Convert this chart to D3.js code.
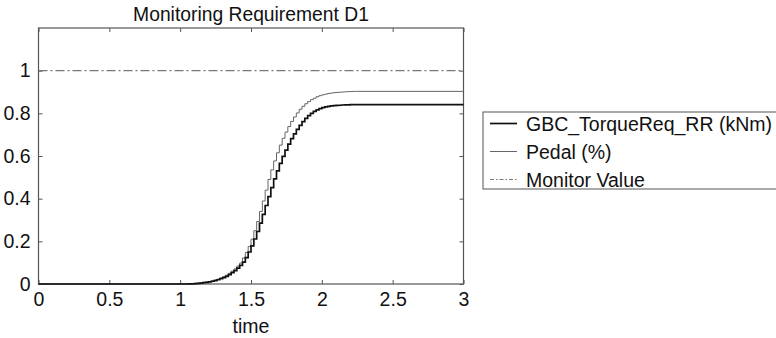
<!DOCTYPE html>
<html>
<head>
<meta charset="utf-8">
<script src="https://cdn.jsdelivr.net/npm/d3@7"></script>
<style>
  body { margin: 0; background: #fff; }
  svg { display: block; font-family: "Liberation Sans", Arial, sans-serif; }
</style>
</head>
<body>
<div id="container"></div>
<script>
var width = 776, height = 338;
var margin = {top: 28, right: 312.5, bottom: 54, left: 38.5};

// sample times (s)
var times = [0,
  1.00, 1.02, 1.04, 1.06, 1.08, 1.10, 1.12, 1.14, 1.16, 1.18,
  1.20, 1.22, 1.24, 1.26, 1.28, 1.30, 1.32, 1.34, 1.36, 1.38,
  1.40, 1.42, 1.44, 1.46, 1.48, 1.50, 1.52, 1.54, 1.56, 1.58,
  1.60, 1.62, 1.64, 1.66, 1.68, 1.70, 1.72, 1.74, 1.76, 1.78,
  1.80, 1.82, 1.84, 1.86, 1.88, 1.90, 1.92, 1.94, 1.96, 1.98,
  2.00, 2.02, 2.04, 2.06, 2.08, 2.10, 2.12, 2.14, 2.16, 2.18,
  2.20, 2.22, 2.24,
  3];

var torque = [0,
  0.000, 0.000, 0.000, 0.001, 0.001, 0.002, 0.003, 0.004, 0.006, 0.008,
  0.010, 0.013, 0.016, 0.020, 0.025, 0.030, 0.036, 0.044, 0.053, 0.063,
  0.074, 0.087, 0.103, 0.124, 0.150, 0.179, 0.211, 0.246, 0.285, 0.326,
  0.368, 0.410, 0.452, 0.493, 0.530, 0.565, 0.598, 0.628, 0.656, 0.681,
  0.704, 0.725, 0.744, 0.761, 0.776, 0.789, 0.800, 0.809, 0.816, 0.822,
  0.827, 0.830, 0.833, 0.835, 0.836, 0.837, 0.838, 0.839, 0.840, 0.840,
  0.841, 0.841, 0.841,
  0.841];

var pedal = [0,
  0.000, 0.000, 0.001, 0.001, 0.002, 0.003, 0.004, 0.006, 0.008, 0.010,
  0.012, 0.015, 0.019, 0.023, 0.028, 0.034, 0.041, 0.050, 0.060, 0.071,
  0.084, 0.098, 0.122, 0.148, 0.176, 0.210, 0.250, 0.293, 0.340, 0.389,
  0.440, 0.490, 0.535, 0.577, 0.615, 0.651, 0.683, 0.712, 0.738, 0.762,
  0.783, 0.802, 0.819, 0.833, 0.845, 0.855, 0.864, 0.871, 0.878, 0.883,
  0.887, 0.890, 0.893, 0.895, 0.897, 0.898, 0.899, 0.900, 0.901, 0.902,
  0.902, 0.903, 0.903,
  0.903];

var monitorTimes = [0, 3];
var monitor = [1, 1];

var xTicks = [0, 0.5, 1, 1.5, 2, 2.5, 3];
var yTicks = [0, 0.2, 0.4, 0.6, 0.8, 1];
var legendLabels = ["GBC_TorqueReq_RR (kNm)", "Pedal (%)", "Monitor Value"];

var plotW = width - margin.left - margin.right;
var plotH = height - margin.top - margin.bottom;

var x = d3.scaleLinear().domain([0, 3]).range([margin.left, margin.left + plotW]);
var y = d3.scaleLinear().domain([0, 1.2]).range([margin.top + plotH, margin.top]);

var svg = d3.select("#container").append("svg")
    .attr("width", width)
    .attr("height", height);

// title
svg.append("text")
    .attr("x", margin.left + plotW / 2)
    .attr("y", 21)
    .attr("text-anchor", "middle")
    .style("font-size", "19.3px")
    .style("fill", "#111")
    .text("Monitoring Requirement D1");

// axes with inward ticks on all sides
var axisColor = "#555";
function styleAxis(g) {
  g.select(".domain").remove();
  g.selectAll(".tick line").attr("stroke", axisColor);
  g.selectAll(".tick text").style("font-size", "19.5px").attr("fill", "#111");
}

svg.append("g")
    .attr("transform", "translate(0," + (margin.top + plotH) + ")")
    .call(d3.axisBottom(x).tickValues(xTicks).tickSizeInner(-4).tickSizeOuter(0).tickPadding(8).tickFormat(d3.format("")))
    .call(styleAxis);

svg.append("g")
    .attr("transform", "translate(0," + margin.top + ")")
    .call(d3.axisTop(x).tickValues(xTicks).tickSizeInner(-4).tickSizeOuter(0).tickFormat(""))
    .call(styleAxis);

svg.append("g")
    .attr("transform", "translate(" + margin.left + ",0)")
    .call(d3.axisLeft(y).tickValues(yTicks).tickSizeInner(-4).tickSizeOuter(0).tickPadding(8).tickFormat(d3.format("")))
    .call(styleAxis);

svg.append("g")
    .attr("transform", "translate(" + (margin.left + plotW) + ",0)")
    .call(d3.axisRight(y).tickValues(yTicks).tickSizeInner(-4).tickSizeOuter(0).tickFormat(""))
    .call(styleAxis);

svg.append("rect")
    .attr("x", margin.left)
    .attr("y", margin.top)
    .attr("width", plotW)
    .attr("height", plotH)
    .attr("fill", "none")
    .attr("stroke", axisColor)
    .attr("stroke-width", 1.2);

// x label
svg.append("text")
    .attr("x", margin.left + plotW / 2)
    .attr("y", 333)
    .attr("text-anchor", "middle")
    .style("font-size", "19.5px")
    .style("fill", "#111")
    .text("time");

var stepLine = d3.line()
    .x(function(d) { return x(d[0]); })
    .y(function(d) { return y(d[1]); })
    .curve(d3.curveStepAfter);

var plain = d3.line()
    .x(function(d) { return x(d[0]); })
    .y(function(d) { return y(d[1]); });

svg.append("path")
    .datum(d3.zip(monitorTimes, monitor))
    .attr("d", plain)
    .attr("fill", "none")
    .attr("stroke", "#777")
    .attr("stroke-width", 1.2)
    .attr("stroke-dasharray", "9,3,2,3");

svg.append("path")
    .datum(d3.zip(times, pedal))
    .attr("d", stepLine)
    .attr("fill", "none")
    .attr("stroke", "#666")
    .attr("stroke-width", 1);

svg.append("path")
    .datum(d3.zip(times, torque))
    .attr("d", stepLine)
    .attr("fill", "none")
    .attr("stroke", "#111")
    .attr("stroke-width", 1.7);

// legend
var legend = svg.append("g").attr("transform", "translate(483,112)");
legend.append("rect")
    .attr("x", 0).attr("y", 0)
    .attr("width", 300).attr("height", 77)
    .attr("fill", "#fff")
    .attr("stroke", axisColor)
    .attr("stroke-width", 1);

var legendStyles = [
  {stroke: "#111", width: 1.7, dash: null},
  {stroke: "#666", width: 1, dash: null},
  {stroke: "#777", width: 1.2, dash: "4,2,1.5,2"}
];

legendLabels.forEach(function(label, i) {
  var cy = 11.5 + i * 28;
  var st = legendStyles[i];
  legend.append("line")
      .attr("x1", 7).attr("x2", 34)
      .attr("y1", cy).attr("y2", cy)
      .attr("stroke", st.stroke)
      .attr("stroke-width", st.width)
      .attr("stroke-dasharray", st.dash);
  legend.append("text")
      .attr("x", 43)
      .attr("y", cy + 7)
      .style("font-size", "19.5px")
      .style("fill", "#111")
      .text(label);
});
</script>
</body>
</html>
